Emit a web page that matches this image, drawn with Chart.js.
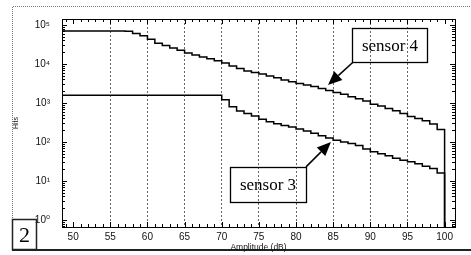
<!DOCTYPE html>
<html><head><meta charset="utf-8">
<script src="https://cdn.jsdelivr.net/npm/chart.js@4"></script>
<style>html,body{margin:0;padding:0;background:#fff}canvas{display:block}</style>
</head><body>
<canvas id="c" width="471" height="255"></canvas>
<script>
const amplitudes = [48,49,50,51,52,53,54,55,56,57,58,59,60,61,62,63,64,65,66,67,68,69,70,71,72,73,74,75,76,77,78,79,80,81,82,83,84,85,86,87,88,89,90,91,92,93,94,95,96,97,98,99,100];
const sensor4Hits = [70000,70000,70000,70000,70000,70000,70000,70000,70000,69000,60000,52500,42700,33900,29500,25700,22400,19100,17000,15100,13500,12000,10500,8900,7600,6600,6000,5500,4900,4400,3900,3500,3160,2880,2630,2340,2090,1860,1660,1450,1290,1120,930,830,720,630,540,450,400,350,290,210,0.3];
const sensor3Hits = [1580,1580,1580,1580,1580,1580,1580,1580,1580,1580,1580,1580,1580,1580,1580,1580,1580,1580,1580,1580,1580,1580,1200,800,620,540,460,380,330,295,263,240,214,190,166,145,126,110,100,91,81,66,56,50,44,38,34,31,27.5,24,21,16,0.3];
const xTickValues = [50,55,60,65,70,75,80,85,90,95,100];
const yTickValues = [1,10,100,1000,10000,100000];
const yTickLabels = ['10⁰','10¹','10²','10³','10⁴','10⁵'];
const seriesNames = ['sensor 4','sensor 3'];

const toPts = arr => amplitudes.map((a,i)=>({x:a,y:arr[i]}));

const decor = {
  id:'decor',
  beforeDraw(chart){
    const ctx = chart.ctx;
    ctx.save();
    ctx.fillStyle='#fff'; ctx.fillRect(0,0,chart.width,chart.height);
    ctx.strokeStyle='#777'; ctx.lineWidth=1; ctx.setLineDash([1,1]);
    ctx.beginPath(); ctx.moveTo(12.5,250); ctx.lineTo(12.5,6.5); ctx.lineTo(471,6.5); ctx.stroke();
    ctx.setLineDash([]);
    ctx.strokeStyle='#222'; ctx.lineWidth=2;
    ctx.beginPath(); ctx.moveTo(12,250); ctx.lineTo(471,250); ctx.stroke();
    ctx.restore();
  },
  afterDatasetsDraw(chart){
    const ctx = chart.ctx, x = chart.scales.x, y = chart.scales.y, a = chart.chartArea;
    ctx.save();
    ctx.strokeStyle='#000'; ctx.lineWidth=1;
    ctx.strokeRect(Math.round(a.left)+0.5, Math.round(a.top)+0.5, Math.round(a.right-a.left), Math.round(a.bottom-a.top));
    ctx.beginPath();
    for(let v=49; v<=101; v++){
      const px = Math.round(x.getPixelForValue(v))+0.5;
      const L = v%5===0?5:3;
      ctx.moveTo(px,a.bottom); ctx.lineTo(px,a.bottom-L);
      ctx.moveTo(px,a.top); ctx.lineTo(px,a.top+L);
    }
    for(let d=0.1; d<=100000; d*=10){
      for(let m=1;m<=9;m++){
        const v=d*m; if(v<y.min||v>y.max) continue;
        const py=Math.round(y.getPixelForValue(v))+0.5;
        const L = m===1?5:3;
        ctx.moveTo(a.left,py); ctx.lineTo(a.left+L,py);
        ctx.moveTo(a.right,py); ctx.lineTo(a.right-L,py);
      }
    }
    ctx.stroke();
    const boxes = chart.options.plugins.decor.boxes;
    ctx.font='17px "Liberation Serif", serif';
    ctx.textAlign='center'; ctx.textBaseline='middle';
    boxes.forEach(b=>{
      const l=x.getPixelForValue(b.x0), r=x.getPixelForValue(b.x1);
      const t=y.getPixelForValue(b.y1), bt=y.getPixelForValue(b.y0);
      ctx.lineWidth=1.3; ctx.strokeStyle='#000';
      ctx.strokeRect(Math.round(l)+0.5,Math.round(t)+0.5,Math.round(r-l),Math.round(bt-t));
      ctx.fillStyle='#000';
      ctx.fillText(b.text,(l+r)/2,(t+bt)/2+1);
      const sx=x.getPixelForValue(b.ax0), sy=y.getPixelForValue(b.ay0);
      const ex=x.getPixelForValue(b.ax1), ey=y.getPixelForValue(b.ay1);
      const ang=Math.atan2(ey-sy,ex-sx), hl=14, hw=6;
      const bx=ex-hl*Math.cos(ang), by=ey-hl*Math.sin(ang);
      ctx.lineWidth=1.5;
      ctx.beginPath(); ctx.moveTo(sx,sy); ctx.lineTo(bx,by); ctx.stroke();
      ctx.beginPath(); ctx.moveTo(ex,ey);
      ctx.lineTo(bx+hw*Math.sin(ang), by-hw*Math.cos(ang));
      ctx.lineTo(bx-hw*Math.sin(ang), by+hw*Math.cos(ang));
      ctx.closePath(); ctx.fill();
    });
    ctx.lineWidth=1.5; ctx.strokeStyle='#222';
    ctx.strokeRect(12.5,219.5,24,30);
    ctx.font='22px "Liberation Serif", serif';
    ctx.fillText('2',24.5,236);
    ctx.restore();
  }
};

new Chart(document.getElementById('c'),{
  type:'line',
  data:{datasets:[
    {label:seriesNames[0],data:toPts(sensor4Hits),borderColor:'#000',borderWidth:1.5,pointRadius:0,stepped:'before',fill:false},
    {label:seriesNames[1],data:toPts(sensor3Hits),borderColor:'#000',borderWidth:1.5,pointRadius:0,stepped:'before',fill:false}
  ]},
  options:{
    responsive:false, animation:false, devicePixelRatio:1,
    layout:{padding:{left:0,right:16,top:19,bottom:0}},
    plugins:{legend:{display:false},tooltip:{enabled:false},
      decor:{boxes:[
        {text:'sensor 4',x0:87.6,x1:97.7,y0:11200,y1:83000,ax0:87.7,ay0:11200,ax1:84.3,ay1:2880},
        {text:'sensor 3',x0:71.1,x1:81.35,y0:2.9,y1:23,ax0:81.35,ay0:23,ax1:84.7,ay1:100}
      ]}},
    scales:{
      x:{type:'linear',min:48.5,max:101.4,
        afterBuildTicks:s=>{s.ticks=xTickValues.map(v=>({value:v}));},
        afterFit:s=>{s.height=28;s.paddingLeft=0;s.paddingRight=0;},
        grid:{drawTicks:false,color:c=>(c.tick&&(c.tick.value===50||c.tick.value===100))?'rgba(0,0,0,0)':'#666',lineWidth:1},
        border:{display:false,dash:[2,2]},
        ticks:{padding:4,color:'#111',font:{family:'"Liberation Sans", Arial, sans-serif',size:10},maxRotation:0,autoSkip:false},
        title:{display:true,text:'Amplitude (dB)',color:'#111',font:{family:'"Liberation Sans", Arial, sans-serif',size:8.5},padding:{top:0,bottom:2}}
      },
      y:{type:'logarithmic',min:0.66,max:142000,
        afterBuildTicks:s=>{s.ticks=yTickValues.map(v=>({value:v,major:true}));},
        afterFit:s=>{s.width=62;s.paddingTop=0;s.paddingBottom=0;},
        grid:{display:false},
        border:{display:false},
        ticks:{padding:4,color:'#111',font:{family:'"Liberation Sans", "DejaVu Sans", sans-serif',size:10},autoSkip:false,
          callback:v=>{const i=yTickValues.indexOf(v);return i>=0?yTickLabels[i]:'';}},
        title:{display:true,text:'Hits',color:'#111',font:{family:'"Liberation Sans", Arial, sans-serif',size:7},padding:{top:12,bottom:0}}
      }
    }
  },
  plugins:[decor]
});
</script>
</body></html>
